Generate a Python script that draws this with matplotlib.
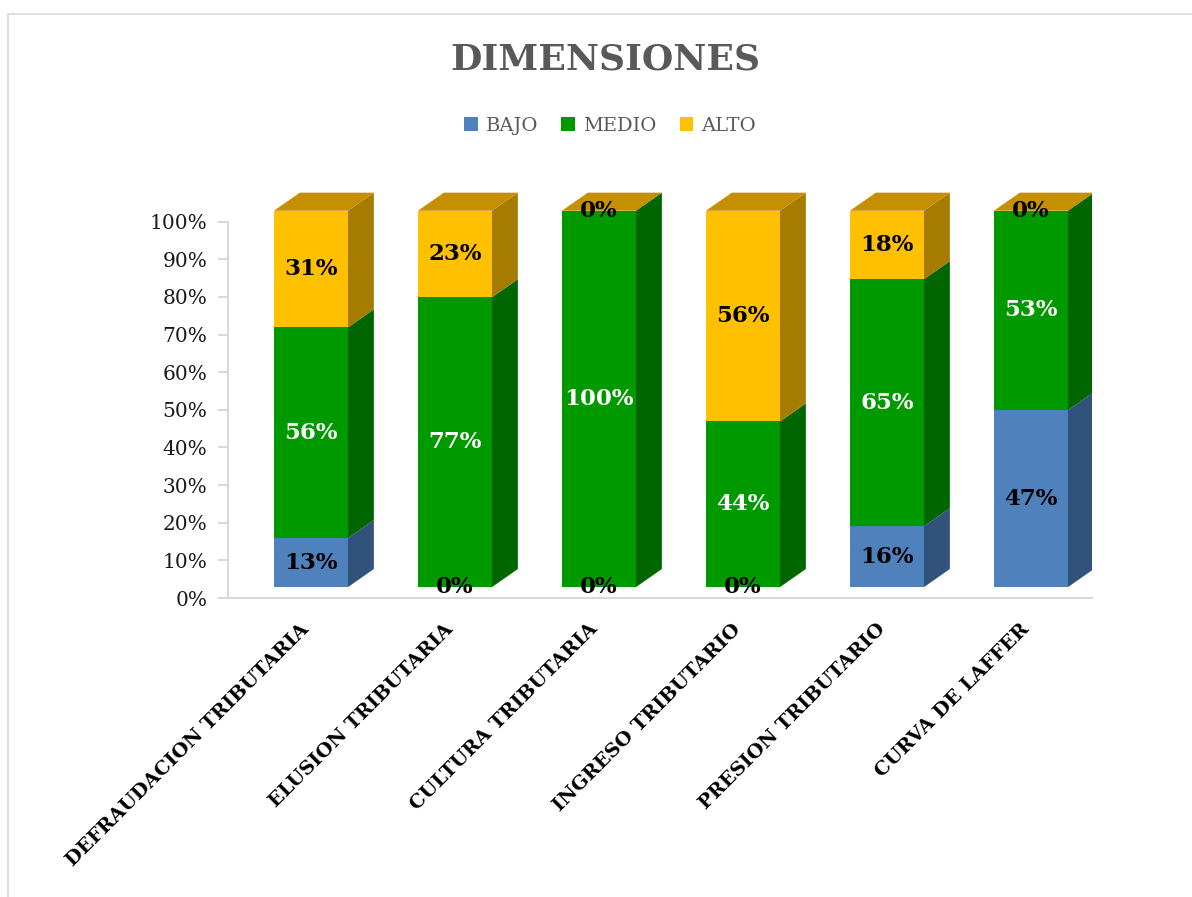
import matplotlib
matplotlib.use("Agg")
import matplotlib.pyplot as plt
from matplotlib.patches import Polygon, Patch, Rectangle
import numpy as np

# Chart data (percent per dimension)
categories = ["DEFRAUDACION TRIBUTARIA", "ELUSION TRIBUTARIA", "CULTURA TRIBUTARIA",
              "INGRESO TRIBUTARIO", "PRESION TRIBUTARIO", "CURVA DE LAFFER"]
bajo = [13, 0, 0, 0, 16, 47]
medio = [56, 77, 100, 44, 65, 53]
alto = [31, 23, 0, 56, 18, 0]
series_names = ["BAJO", "MEDIO", "ALTO"]
yticks = [0, 10, 20, 30, 40, 50, 60, 70, 80, 90, 100]

plt.rcParams['font.family'] = ['DejaVu Serif', 'Liberation Serif']

front = ["#4F81BD", "#009900", "#FFC000"]
side = ["#31527A", "#006600", "#A67C00"]
top_col = "#C49000"
label_col = ["black", "white", "black"]

fig = plt.figure(figsize=(11.92, 8.97), dpi=100)
ax = fig.add_axes([228 / 1192, 299 / 897, 864 / 1192, 414 / 897])

# 3D look: front face offset and depth, in data units
base = 0.029
off = 0.076
w = 0.514
dx, dy = 0.18, 0.048

data = np.array([bajo, medio, alto], dtype=float)
totals = data.sum(axis=0)
frac = data / totals
x = np.arange(len(categories))

bottoms = np.zeros(len(categories))
for s in range(3):
    h = frac[s]
    ax.bar(x + off, h, width=w, bottom=bottoms + base, color=front[s],
           edgecolor="none", zorder=3)
    for i in range(len(categories)):
        x1 = x[i] + off + w / 2
        b = bottoms[i] + base
        t = b + h[i]
        if h[i] > 0:
            ax.add_patch(Polygon([(x1, b), (x1 + dx, b + dy), (x1 + dx, t + dy), (x1, t)],
                                 closed=True, facecolor=side[s], edgecolor="none", zorder=2))
        ax.text(x[i] + off, (b + t) / 2, f"{int(data[s][i])}%", ha="center", va="center",
                fontsize=16.5, fontweight="bold", color=label_col[s], zorder=5)
    bottoms = bottoms + h

# top faces
for i in range(len(categories)):
    x0 = x[i] + off - w / 2
    x1 = x0 + w
    t = bottoms[i] + base
    ax.add_patch(Polygon([(x0, t), (x1, t), (x1 + dx, t + dy), (x0 + dx, t + dy)],
                         closed=True, facecolor=top_col, edgecolor="none", zorder=2))

ax.set_xlim(-0.5, len(categories) - 0.5)
ax.set_ylim(0, 1.1)
ax.set_yticks([v / 100 for v in yticks])
ax.set_yticklabels([f"{v}%" for v in yticks], fontsize=14.5, color="#1a1a1a")
ax.tick_params(axis="y", length=7, width=1.5, color="#D9D9D9", pad=8)
ax.set_xticks(x)
ax.set_xticklabels(categories, rotation=45, ha="right", rotation_mode="anchor",
                   fontsize=14, fontweight="bold", color="black")
ax.tick_params(axis="x", length=0, pad=16)

for sp in ["top", "right"]:
    ax.spines[sp].set_visible(False)
ax.spines["left"].set_bounds(0, 1)
ax.spines["left"].set_color("#D9D9D9")
ax.spines["left"].set_linewidth(1.5)
ax.spines["bottom"].set_color("#D9D9D9")
ax.spines["bottom"].set_linewidth(1.5)
ax.set_facecolor("none")

fig.text(605 / 1192, 1 - 60 / 897, "DIMENSIONES", ha="center", va="center",
         fontsize=26, fontweight="bold", color="#595959")

handles = [Patch(facecolor=c, edgecolor="none") for c in front]
fig.legend(handles, series_names, loc="center", bbox_to_anchor=(610 / 1192, 1 - 126 / 897),
           ncol=3, frameon=False, fontsize=14, handlelength=0.7, handleheight=0.7,
           handletextpad=0.4, columnspacing=1.2, labelcolor="#595959")

# chart area border
fig.add_artist(Rectangle((8 / 1192, -0.05), 1.2, 1.05 - 14 / 897, transform=fig.transFigure,
                         fill=False, edgecolor="#D9D9D9", linewidth=1.2))

fig.savefig("out.png", dpi=100)
